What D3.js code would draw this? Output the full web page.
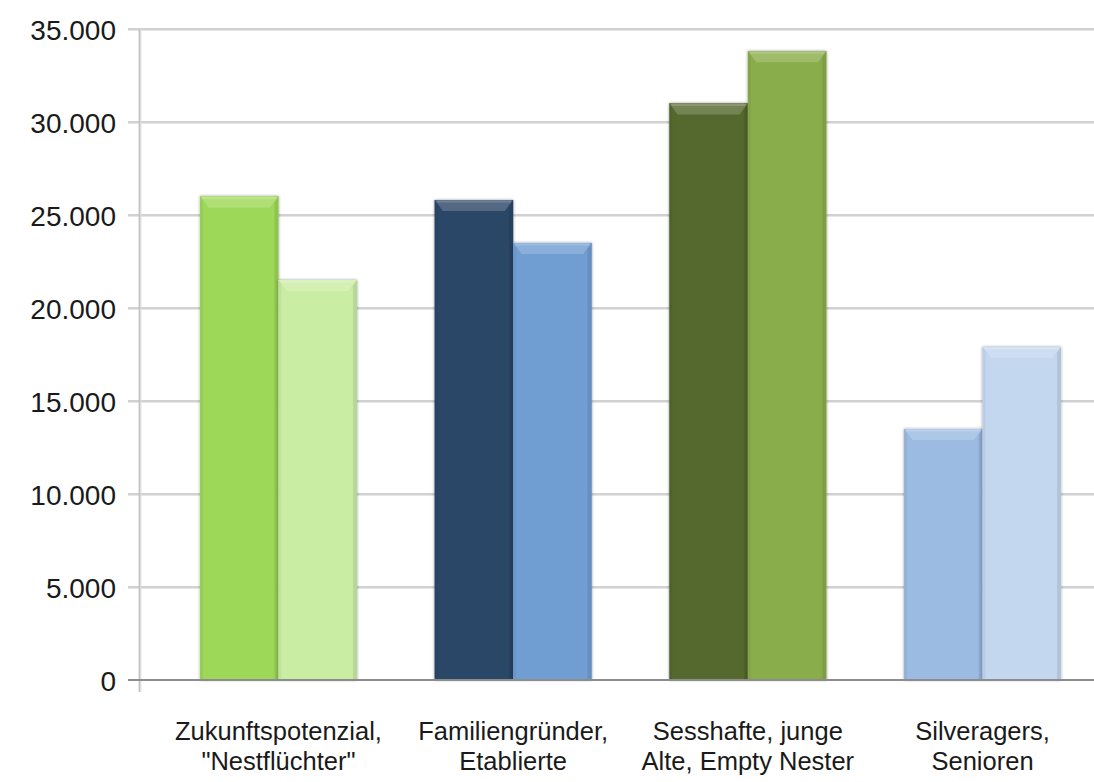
<!DOCTYPE html>
<html>
<head>
<meta charset="utf-8">
<script src="https://cdn.jsdelivr.net/npm/d3@7/dist/d3.min.js"></script>
<style>
  html, body { margin: 0; padding: 0; background: #ffffff; }
  svg { display: block; }
  text { font-family: "Liberation Sans", Arial, sans-serif; fill: #1a1a1a; }
</style>
</head>
<body>
<svg id="chart" width="1094" height="782"></svg>
<script>
// ---- data ----
const categories = [
  ["Zukunftspotenzial,", "\"Nestflüchter\""],
  ["Familiengründer,", "Etablierte"],
  ["Sesshafte, junge", "Alte, Empty Nester"],
  ["Silveragers,", "Senioren"]
];
const seriesA = [26000, 25800, 31000, 13500];
const seriesB = [21500, 23500, 33800, 17900];
const yTicks = [0, 5000, 10000, 15000, 20000, 25000, 30000, 35000];

// ---- styles ----
const coloursA = ["#9ed858", "#2c4668", "#55692e", "#9bbbe2"];
const coloursB = ["#caeda4", "#709dd2", "#8aad4b", "#c3d7ef"];

const svg = d3.select("#chart");
const plotLeft = 139.5, plotRight = 1094, yTop = 29, yZero = 680;

const locale = d3.formatLocale({decimal: ",", thousands: ".", grouping: [3], currency: ["", " €"]});
const fmt = locale.format(",d");

const catKeys = categories.map((c, i) => i);
const y = d3.scaleLinear().domain([0, 35000]).range([yZero, yTop]);
const x0 = d3.scaleBand().domain(catKeys).range([161, 1100]).paddingInner(0.331).paddingOuter(0.166);
const x1 = d3.scaleBand().domain([0, 1]).range([0, x0.bandwidth()]);

// defs: shadow filter
const defs = svg.append("defs");
const f = defs.append("filter").attr("id", "shadow").attr("x", "-20%").attr("y", "-10%").attr("width", "140%").attr("height", "120%");
f.append("feGaussianBlur").attr("in", "SourceAlpha").attr("stdDeviation", 1.5).attr("result", "b");
f.append("feComponentTransfer").attr("in", "b").attr("result", "s")
  .append("feFuncA").attr("type", "linear").attr("slope", 0.4);
const m = f.append("feMerge");
m.append("feMergeNode").attr("in", "s");
m.append("feMergeNode").attr("in", "SourceGraphic");

// gridlines with soft shadow
const grid = svg.append("g");
yTicks.filter(t => t > 0).forEach(t => {
  grid.append("line").attr("x1", 128).attr("x2", plotRight).attr("y1", y(t) + 1.5).attr("y2", y(t) + 1.5)
    .attr("stroke", "#e6e6e6").attr("stroke-width", 1.2);
  grid.append("line").attr("x1", 128).attr("x2", plotRight).attr("y1", y(t)).attr("y2", y(t))
    .attr("stroke", "#c2c2c2").attr("stroke-width", 1.6);
});

// vertical axis line
svg.append("line").attr("x1", plotLeft + 1.5).attr("x2", plotLeft + 1.5).attr("y1", yTop).attr("y2", 692)
  .attr("stroke", "#e6e6e6").attr("stroke-width", 1.2);
svg.append("line").attr("x1", plotLeft).attr("x2", plotLeft).attr("y1", yTop).attr("y2", 692)
  .attr("stroke", "#c2c2c2").attr("stroke-width", 1.8);

// y axis labels
const yAxis = d3.axisLeft(y).tickValues(yTicks).tickFormat(fmt).tickSize(0).tickPadding(0);
const ya = svg.append("g").attr("transform", "translate(116,0)").call(yAxis);
ya.select(".domain").remove();
ya.selectAll("text").attr("font-size", 28).attr("fill", "#1a1a1a")
  .attr("font-family", "'Liberation Sans', Arial, sans-serif").attr("dy", "0.36em");

// bars with bevel
function drawBar(g, x, yTopBar, w, colour) {
  const h = yZero - yTopBar;
  const c = d3.color(colour);
  const light = d3.interpolateRgb(colour, "#ffffff");
  const bg = g.append("g").attr("filter", "url(#shadow)");
  bg.append("rect").attr("x", x).attr("y", yTopBar).attr("width", w).attr("height", h).attr("fill", colour);
  bg.append("rect").attr("x", x).attr("y", yTopBar).attr("width", 3).attr("height", h)
    .attr("fill", c.darker(0.3)).attr("opacity", 0.45);
  bg.append("rect").attr("x", x + w - 4).attr("y", yTopBar).attr("width", 4).attr("height", h)
    .attr("fill", c.darker(0.45)).attr("opacity", 0.6);
  const bev = 11, ins = 8;
  bg.append("path")
    .attr("d", `M${x},${yTopBar}L${x + w},${yTopBar}L${x + w - ins},${yTopBar + bev}L${x + ins},${yTopBar + bev}Z`)
    .attr("fill", light(0.18));
  bg.append("path")
    .attr("d", `M${x + 2},${yTopBar + 1.5}L${x + w - 2},${yTopBar + 1.5}`)
    .attr("stroke", light(0.35)).attr("stroke-width", 2).attr("opacity", 0.8);
  bg.append("path")
    .attr("d", `M${x},${yTopBar}L${x + ins},${yTopBar + bev}M${x + w},${yTopBar}L${x + w - ins},${yTopBar + bev}`)
    .attr("stroke", c.darker(0.2)).attr("stroke-width", 1).attr("opacity", 0.4);
}

const bars = svg.append("g");
catKeys.forEach(i => {
  drawBar(bars, x0(i) + x1(0), y(seriesA[i]), x1.bandwidth(), coloursA[i]);
  drawBar(bars, x0(i) + x1(1), y(seriesB[i]), x1.bandwidth(), coloursB[i]);
});

// baseline
svg.append("line").attr("x1", 128).attr("x2", plotRight).attr("y1", yZero).attr("y2", yZero)
  .attr("stroke", "#8c8c8c").attr("stroke-width", 2);

// category labels, centred under each group
const lab = svg.append("g");
catKeys.forEach(i => {
  const cx = x0(i) + x0.bandwidth() / 2;
  categories[i].forEach((line, k) => {
    lab.append("text").attr("x", cx).attr("y", 740 + k * 29.5).attr("text-anchor", "middle")
      .attr("font-size", 25.5).text(line);
  });
});
</script>
</body>
</html>
